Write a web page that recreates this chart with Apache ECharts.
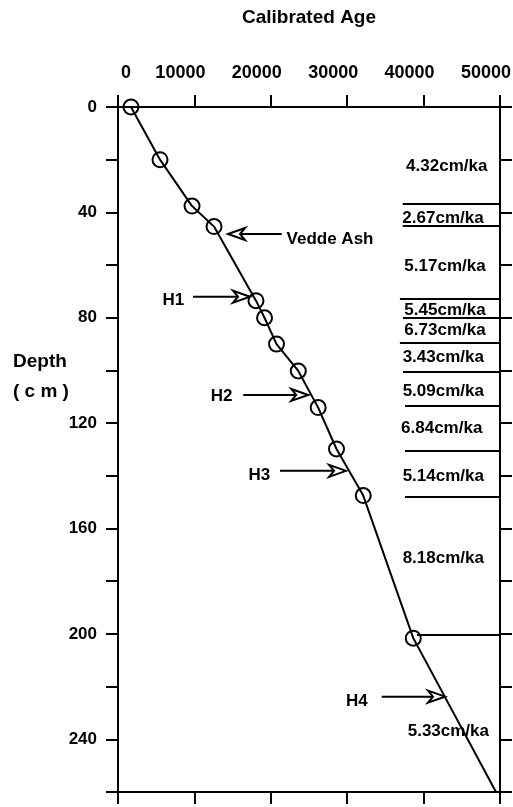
<!DOCTYPE html>
<html>
<head>
<meta charset="utf-8">
<script src="https://cdn.jsdelivr.net/npm/echarts@6/dist/echarts.min.js"></script>
<style>
html, body { margin: 0; padding: 0; background: #fff; }
#box { width: 513px; height: 807px; }
</style>
</head>
<body>
<div id="box"></div>
<script>
// age-depth model points (calibrated age, depth in cm); last one is the line end, no circle
var ages   = [1700, 5500, 9690, 12570, 18060, 19180, 20750, 23600, 26200, 28600, 32100, 38650, 49440];
var depths = [0, 20, 37.6, 45.4, 73.5, 80, 90, 100.2, 114.1, 129.8, 147.5, 201.6, 259.8];

// horizontal segment boundaries on the right
var cutDepths = [36.6, 45.2, 72.9, 80, 89.3, 100.5, 113.5, 130.4, 148.1, 200.4];
var cutStart  = [37270, 37270, 36900, 37300, 36900, 37300, 37570, 37570, 37570, 39140];

// sedimentation rate labels
var rateText  = ['4.32cm/ka', '2.67cm/ka', '5.17cm/ka', '5.45cm/ka', '6.73cm/ka', '3.43cm/ka',
                 '5.09cm/ka', '6.84cm/ka', '5.14cm/ka', '8.18cm/ka', '5.33cm/ka'];
var rateAge   = [43030, 42540, 42800, 42800, 42800, 42580, 42580, 42370, 42580, 42580, 43240];
var rateDepth = [22.7, 42.2, 60.6, 77, 84.6, 95, 108, 122, 140, 171.3, 237];

// event arrows: tail age, tip age, depth, label and its position
var arrowText  = ['Vedde Ash', 'H1', 'H2', 'H3', 'H4'];
var arrowFrom  = [21430, 9820, 16400, 21200, 34520];
var arrowTo    = [14400, 17280, 24900, 29850, 42800];
var arrowDepth = [48.2, 72, 109.3, 138.1, 223.8];
var labelAge   = [27750, 7240, 13570, 18500, 31250];
var labelDepth = [50.3, 73.2, 110, 139.7, 225.7];

var FONT = 'Liberation Sans, Arial, Helvetica, sans-serif';

var myChart = echarts.init(document.getElementById('box'));

var pts = ages.map(function (a, i) {
    var item = { value: [a, depths[i]] };
    if (i === ages.length - 1) item.symbol = 'none';
    return item;
});

var texts = [];
rateText.forEach(function (t, i) { texts.push([rateAge[i], rateDepth[i], t]); });
arrowText.forEach(function (t, i) { texts.push([labelAge[i], labelDepth[i], t]); });

var axisBase = {
    type: 'value',
    axisLine: { show: true, onZero: false, lineStyle: { color: '#000', width: 2 } },
    axisTick: { show: true, inside: false, length: 12, lineStyle: { color: '#000', width: 2 } },
    splitLine: { show: false }
};

var option = {
    animation: false,
    backgroundColor: '#fff',
    grid: { left: 118, right: 13, top: 107, bottom: 15, containLabel: false, outerBoundsMode: 'none' },
    xAxis: [
        Object.assign({}, axisBase, {
            position: 'top',
            min: 0, max: 50000, interval: 10000,
            name: 'Calibrated Age',
            nameLocation: 'middle',
            nameGap: 80,
            nameTextStyle: { color: '#000', fontSize: 19, fontWeight: 'bold', fontFamily: FONT },
            axisLabel: {
                margin: 25,
                color: '#000',
                fontSize: 18,
                fontWeight: 'bold',
                fontFamily: FONT,
                formatter: function (v) { return v === 0 ? '{z|0}' : '{a|' + v + '}'; },
                rich: {
                    a: { padding: [0, 28, 0, 0], fontSize: 18, fontWeight: 'bold', fontFamily: FONT, color: '#000' },
                    z: { padding: [0, 0, 0, 16], fontSize: 18, fontWeight: 'bold', fontFamily: FONT, color: '#000' }
                }
            }
        }),
        Object.assign({}, axisBase, {
            position: 'bottom',
            min: 0, max: 50000, interval: 10000,
            axisLabel: { show: false }
        })
    ],
    yAxis: [
        Object.assign({}, axisBase, {
            position: 'left',
            inverse: true,
            min: 0, max: 260, interval: 20,
            axisLabel: {
                margin: 21,
                color: '#000',
                fontSize: 17,
                fontWeight: 'bold',
                fontFamily: FONT,
                formatter: function (v) { return v % 40 === 0 ? v : ''; }
            }
        }),
        Object.assign({}, axisBase, {
            position: 'right',
            inverse: true,
            min: 0, max: 260, interval: 20,
            axisLabel: { show: false }
        })
    ],
    graphic: [
        { type: 'text', left: 13, top: 352,
          style: { text: 'Depth', font: 'bold 19px ' + FONT, fill: '#000' } },
        { type: 'text', left: 13, top: 382,
          style: { text: '( c m )', font: 'bold 19px ' + FONT, fill: '#000' } }
    ],
    series: [
        {
            type: 'lines',
            coordinateSystem: 'cartesian2d',
            lineStyle: { color: '#000', width: 2, opacity: 1 },
            data: cutDepths.map(function (d, i) {
                return { coords: [[cutStart[i], d], [50000, d]] };
            })
        },
        {
            type: 'line',
            data: pts,
            symbol: 'circle',
            symbolSize: 15,
            showAllSymbol: true,
            itemStyle: { color: 'rgba(0,0,0,0)', borderColor: '#000', borderWidth: 2 },
            lineStyle: { color: '#000', width: 2 },
            z: 5
        },
        {
            type: 'custom',
            data: arrowFrom.map(function (a, i) { return [a, arrowDepth[i], arrowTo[i]]; }),
            renderItem: function (params, api) {
                var p1 = api.coord([api.value(0), api.value(1)]);
                var p2 = api.coord([api.value(2), api.value(1)]);
                var dir = p2[0] > p1[0] ? 1 : -1;
                var L = 17, W = 6, N = 12;
                return {
                    type: 'group',
                    children: [
                        { type: 'line',
                          shape: { x1: p1[0], y1: p1[1], x2: p2[0] - dir * N, y2: p2[1] },
                          style: { stroke: '#000', lineWidth: 2 } },
                        { type: 'polygon',
                          shape: { points: [
                              [p2[0], p2[1]],
                              [p2[0] - dir * L, p2[1] - W],
                              [p2[0] - dir * N, p2[1]],
                              [p2[0] - dir * L, p2[1] + W]
                          ] },
                          style: { fill: '#fff', stroke: '#000', lineWidth: 2 } }
                    ]
                };
            },
            z: 6
        },
        {
            type: 'custom',
            data: texts,
            renderItem: function (params, api) {
                var p = api.coord([api.value(0), api.value(1)]);
                return {
                    type: 'text',
                    x: p[0], y: p[1],
                    style: {
                        text: texts[params.dataIndex][2],
                        font: 'bold 17px ' + FONT,
                        fill: '#000',
                        align: 'center',
                        verticalAlign: 'middle'
                    }
                };
            },
            z: 7
        }
    ]
};

option && myChart.setOption(option);
</script>
</body>
</html>
